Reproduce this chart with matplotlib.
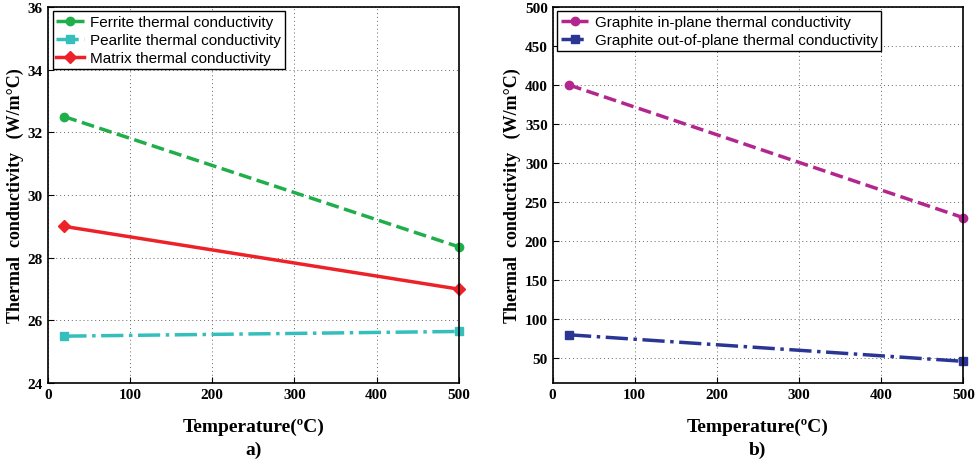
import numpy as np
import matplotlib.pyplot as plt

temps = [20, 500]
ferrite = [32.5, 28.35]
pearlite = [25.5, 25.65]
matrix = [29.0, 27.0]
graphite_in = [400, 230]
graphite_out = [80, 46]

SERIF = 'Liberation Serif'
SANS = 'Liberation Sans'

fig = plt.figure(figsize=(9.78, 4.64), dpi=100)
ax1 = fig.add_axes([0.049, 0.172, 0.420, 0.811])
ax2 = fig.add_axes([0.565, 0.172, 0.420, 0.811])

ax1.plot(temps, ferrite, '--o', color='#1fae4a', lw=2.5, ms=6, mfc='#1fae4a',
         label='Ferrite thermal conductivity', clip_on=False)
ax1.plot(temps, pearlite, '-.s', color='#34bfbc', lw=2.5, ms=6,
         label='Pearlite thermal conductivity', clip_on=False)
ax1.plot(temps, matrix, '-D', color='#ec2228', lw=2.5, ms=6,
         label='Matrix thermal conductivity', clip_on=False)
ax1.set_ylim(24, 36)
ax1.set_yticks(np.arange(24, 37, 2))

ax2.plot(temps, graphite_in, '--o', color='#b3268e', lw=2.5, ms=6,
         label='Graphite in-plane thermal conductivity', clip_on=False)
ax2.plot(temps, graphite_out, '-.s', color='#2b3694', lw=2.5, ms=6,
         label='Graphite out-of-plane thermal conductivity', clip_on=False)
ax2.set_ylim(18, 500)
ax2.set_yticks(np.arange(50, 501, 50))

for ax, tag in [(ax1, 'a)'), (ax2, 'b)')]:
  ax.set_xlim(0, 500)
  ax.set_xticks(np.arange(0, 501, 100))
  ax.grid(True, linestyle=(0, (1, 3)), color='#666666', lw=0.7)
  ax.tick_params(direction='in', length=4, labelsize=11)
  for lab in ax.get_xticklabels() + ax.get_yticklabels():
    lab.set_fontfamily(SERIF)
    lab.set_fontweight('bold')
  for s in ax.spines.values():
    s.set_linewidth(1.2)
  ax.set_ylabel('Thermal  conductivity   (W/m\u00b0C)', fontfamily=SERIF,
                fontweight='bold', fontsize=13, labelpad=3)
  ax.set_xlabel('Temperature(\u00baC)', fontfamily=SERIF, fontweight='bold',
                fontsize=14, labelpad=12)
  ax.text(0.5, -0.176, tag, transform=ax.transAxes, ha='center', va='center',
          fontfamily=SERIF, fontweight='bold', fontsize=14)
  leg = ax.legend(loc='upper left', prop={'family': SANS, 'size': 11},
                  fancybox=False, framealpha=1, edgecolor='black',
                  borderpad=0.25, labelspacing=0.25, handlelength=1.8,
                  handletextpad=0.4, borderaxespad=0.3)
  leg.get_frame().set_linewidth(1.0)

fig.savefig('out.png', dpi=100)
